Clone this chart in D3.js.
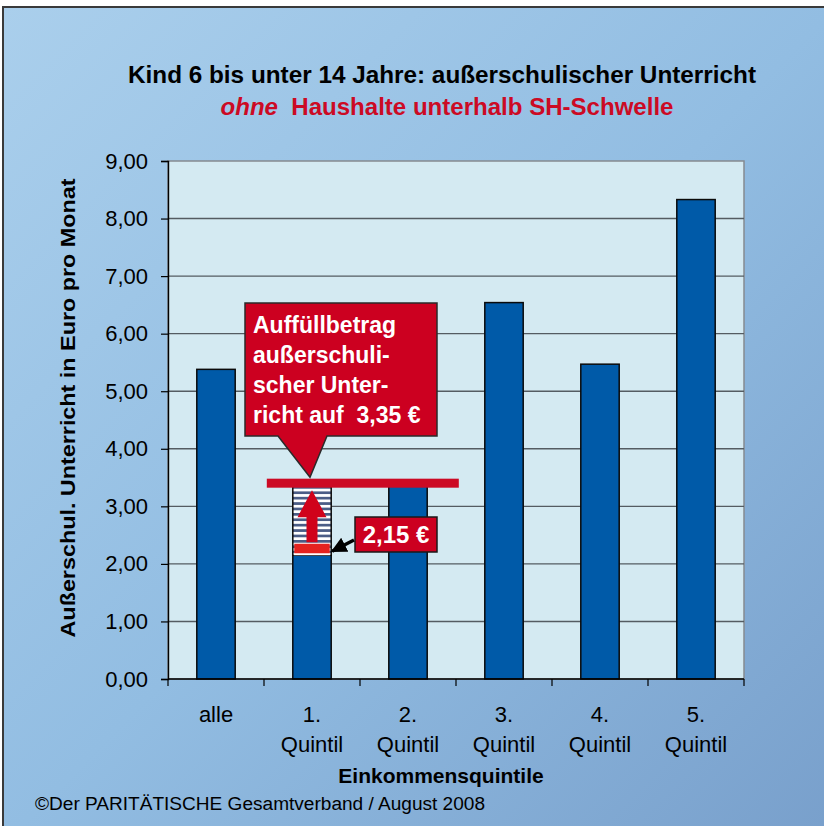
<!DOCTYPE html>
<html>
<head>
<meta charset="utf-8">
<script src="https://cdn.jsdelivr.net/npm/d3@7"></script>
<style>
  body { margin: 0; background: #fff; }
  svg { display: block; font-family: "Liberation Sans", Arial, sans-serif; }
</style>
</head>
<body>
<div id="chart"></div>
<script>
// Chart data
const categories = ["alle", "1. Quintil", "2. Quintil", "3. Quintil", "4. Quintil", "5. Quintil"];
const labelLines = [["alle"], ["1.", "Quintil"], ["2.", "Quintil"], ["3.", "Quintil"], ["4.", "Quintil"], ["5.", "Quintil"]];
const values = [5.38, 2.15, 3.37, 6.54, 5.47, 8.33];
const yTicks = [0, 1, 2, 3, 4, 5, 6, 7, 8, 9];
const fillTarget = 3.35; // Auffüllbetrag
const calloutLines = ["Auffüllbetrag", "außerschuli-", "scher Unter-", "richt auf  3,35 €"];
const actualLabel = "2,15 €";

const W = 824, H = 826;
const plot = { left: 168, right: 744, top: 161, bottom: 679 };

const de = d3.formatLocale({ decimal: ",", thousands: ".", grouping: [3], currency: ["", " €"] });
const fmt = de.format(".2f");

const svg = d3.select("#chart").append("svg")
  .attr("width", W).attr("height", H);

// Background gradient
const defs = svg.append("defs");
const grad = defs.append("linearGradient").attr("id", "bg")
  .attr("x1", "0%").attr("y1", "0%").attr("x2", "100%").attr("y2", "100%");
grad.append("stop").attr("offset", "0%").attr("stop-color", "#aacfec");
grad.append("stop").attr("offset", "50%").attr("stop-color", "#92bde2");
grad.append("stop").attr("offset", "100%").attr("stop-color", "#789fcb");

// Hatch pattern for the gap up to the target
const pat = defs.append("pattern").attr("id", "hatch")
  .attr("patternUnits", "userSpaceOnUse").attr("width", 8).attr("height", 5.4);
pat.append("rect").attr("width", 8).attr("height", 5.4).attr("fill", "#fff");
pat.append("rect").attr("width", 8).attr("height", 2.7).attr("fill", "#4b5d86");

svg.append("rect").attr("x", 3).attr("y", 7).attr("width", W + 10).attr("height", H + 10)
  .attr("fill", "url(#bg)").attr("stroke", "#3a3a3a").attr("stroke-width", 2);

// Scales
const x = d3.scaleBand().domain(categories).range([plot.left, plot.right]).paddingInner(0.6).paddingOuter(0.3);
const y = d3.scaleLinear().domain([0, 9]).range([plot.bottom, plot.top]);
const band = (plot.right - plot.left) / categories.length;

// Plot area
svg.append("rect").attr("x", plot.left).attr("y", plot.top)
  .attr("width", plot.right - plot.left).attr("height", plot.bottom - plot.top)
  .attr("fill", "#d4eaf2").attr("stroke", "#858a90").attr("stroke-width", 1.5);

// Gridlines
svg.append("g").selectAll("line").data(yTicks.slice(1, -1)).join("line")
  .attr("x1", plot.left).attr("x2", plot.right)
  .attr("y1", d => y(d)).attr("y2", d => y(d))
  .attr("stroke", "#545c62").attr("stroke-width", 1.4);

// Y axis
const yAxis = svg.append("g").attr("transform", `translate(${plot.left},0)`)
  .call(d3.axisLeft(y).tickValues(yTicks).tickFormat(fmt).tickSize(7).tickPadding(13));
yAxis.select(".domain").attr("stroke", "#000").attr("stroke-width", 1.4);
yAxis.selectAll(".tick line").attr("stroke", "#000").attr("stroke-width", 1.2);
yAxis.selectAll("text").attr("font-size", 22).attr("fill", "#000")
  .attr("font-family", "Liberation Sans, Arial, sans-serif");

// Bars
svg.append("g").selectAll("rect").data(values).join("rect")
  .attr("x", (d, i) => x(categories[i]))
  .attr("y", d => y(d))
  .attr("width", x.bandwidth())
  .attr("height", d => y(0) - y(d))
  .attr("fill", "#005aa8").attr("stroke", "#0a0a0a").attr("stroke-width", 1.5);

// X axis
svg.append("line").attr("x1", plot.left).attr("x2", plot.right)
  .attr("y1", plot.bottom).attr("y2", plot.bottom)
  .attr("stroke", "#000").attr("stroke-width", 1.4);
svg.append("g").selectAll("line").data(d3.range(categories.length + 1)).join("line")
  .attr("x1", i => plot.left + i * band).attr("x2", i => plot.left + i * band)
  .attr("y1", plot.bottom).attr("y2", plot.bottom + 7)
  .attr("stroke", "#000").attr("stroke-width", 1.2);

const xl = svg.append("g").selectAll("text").data(labelLines).join("text")
  .attr("text-anchor", "middle").attr("font-size", 22).attr("fill", "#000")
  .attr("x", (d, i) => x(categories[i]) + x.bandwidth() / 2)
  .attr("y", 722);
xl.selectAll("tspan").data(d => d).join("tspan")
  .attr("x", function () { return d3.select(this.parentNode).attr("x"); })
  .attr("dy", (d, i) => i === 0 ? 0 : 30)
  .text(d => d);

// Filling gap on 1. Quintil: hatched area, red marker, arrow
const qi = 1;
const qx = x(categories[qi]), qw = x.bandwidth();
const qv = values[qi];
svg.append("rect").attr("x", qx).attr("y", y(fillTarget))
  .attr("width", qw).attr("height", y(qv) - y(fillTarget))
  .attr("fill", "url(#hatch)").attr("stroke", "#0a0a0a").attr("stroke-width", 1.5);
svg.append("rect").attr("x", qx + 1).attr("y", y(qv) - 2.5).attr("width", qw - 2).attr("height", 2.5).attr("fill", "#fff");
svg.append("rect").attr("x", qx + 1.5).attr("y", y(qv) - 11.5).attr("width", qw - 3).attr("height", 9.5).attr("fill", "#e5221f");

// Red up arrow inside the gap
const ax = qx + qw / 2;
const aTop = y(fillTarget) + 4, aBase = aTop + 27, aBot = y(qv) - 13;
svg.append("path")
  .attr("d", `M${ax},${aTop} L${ax + 14.5},${aBase} L${ax + 5.5},${aBase} L${ax + 5.5},${aBot} L${ax - 5.5},${aBot} L${ax - 5.5},${aBase} L${ax - 14.5},${aBase} Z`)
  .attr("fill", "#d0021b");

// Target line at 3,35
const ty = y(fillTarget) - 3;
svg.append("rect").attr("x", qx - 26).attr("y", ty - 4.5).attr("width", 192).attr("height", 9)
  .attr("fill", "#cc0a24");

// Callout box
const cb = { x: 245, y: 303, w: 192, h: 133 };
const tipX = qx + qw / 2 - 2;
svg.append("path")
  .attr("d", `M${cb.x},${cb.y} H${cb.x + cb.w} V${cb.y + cb.h} H${cb.x + 82} L${tipX},${ty - 6} L${cb.x + 33},${cb.y + cb.h} H${cb.x} Z`)
  .attr("fill", "#cc0020").attr("stroke", "#2a2a2a").attr("stroke-width", 1.5);
svg.append("g").selectAll("text").data(calloutLines).join("text")
  .attr("x", cb.x + 8).attr("y", (d, i) => cb.y + 30 + i * 30)
  .attr("fill", "#fff").attr("font-weight", "bold").attr("font-size", 23)
  .attr("xml:space", "preserve").style("white-space", "pre")
  .text(d => d);

// Actual value label with arrow
const lb = { x: 355, y: 517, w: 82, h: 35 };
svg.append("rect").attr("x", lb.x).attr("y", lb.y).attr("width", lb.w).attr("height", lb.h)
  .attr("fill", "#cc0020").attr("stroke", "#1a1a1a").attr("stroke-width", 1.5);
svg.append("text").attr("x", lb.x + lb.w / 2).attr("y", lb.y + 26)
  .attr("text-anchor", "middle").attr("fill", "#fff").attr("font-weight", "bold").attr("font-size", 24)
  .text(actualLabel);
defs.append("marker").attr("id", "ah").attr("viewBox", "0 0 10 10").attr("refX", 9).attr("refY", 5)
  .attr("markerWidth", 4.5).attr("markerHeight", 4.5).attr("orient", "auto")
  .append("path").attr("d", "M0,0 L10,5 L0,10 Z").attr("fill", "#000");
svg.append("line").attr("x1", lb.x - 1).attr("y1", lb.y + 23)
  .attr("x2", qx + qw + 1).attr("y2", y(qv) - 4)
  .attr("stroke", "#000").attr("stroke-width", 3.5).attr("marker-end", "url(#ah)");

// Titles
svg.append("text").attr("x", 442).attr("y", 83).attr("text-anchor", "middle")
  .attr("font-weight", "bold").attr("font-size", 23.5).attr("fill", "#000")
  .attr("textLength", 628).attr("lengthAdjust", "spacingAndGlyphs")
  .text("Kind 6 bis unter 14 Jahre: außerschulischer Unterricht");
const t2 = svg.append("text").attr("x", 447).attr("y", 115).attr("text-anchor", "middle")
  .attr("font-weight", "bold").attr("font-size", 23.5).attr("fill", "#cc0a24")
  .attr("textLength", 453).attr("lengthAdjust", "spacingAndGlyphs")
  .attr("xml:space", "preserve").style("white-space", "pre");
t2.append("tspan").attr("font-style", "italic").text("ohne");
t2.append("tspan").text("  Haushalte unterhalb SH-Schwelle");

// Axis titles
svg.append("text").attr("transform", `translate(75,408) rotate(-90)`).attr("text-anchor", "middle")
  .attr("font-weight", "bold").attr("font-size", 20.5).attr("fill", "#000")
  .attr("textLength", 459).attr("lengthAdjust", "spacingAndGlyphs")
  .text("Außerschul. Unterricht in Euro pro Monat");
svg.append("text").attr("x", 441).attr("y", 783).attr("text-anchor", "middle")
  .attr("font-weight", "bold").attr("font-size", 21).attr("fill", "#000")
  .text("Einkommensquintile");

// Source
svg.append("text").attr("x", 35).attr("y", 810)
  .attr("font-size", 18).attr("fill", "#000")
  .attr("textLength", 450).attr("lengthAdjust", "spacingAndGlyphs")
  .text("©Der PARITÄTISCHE Gesamtverband / August 2008");
</script>
</body>
</html>
